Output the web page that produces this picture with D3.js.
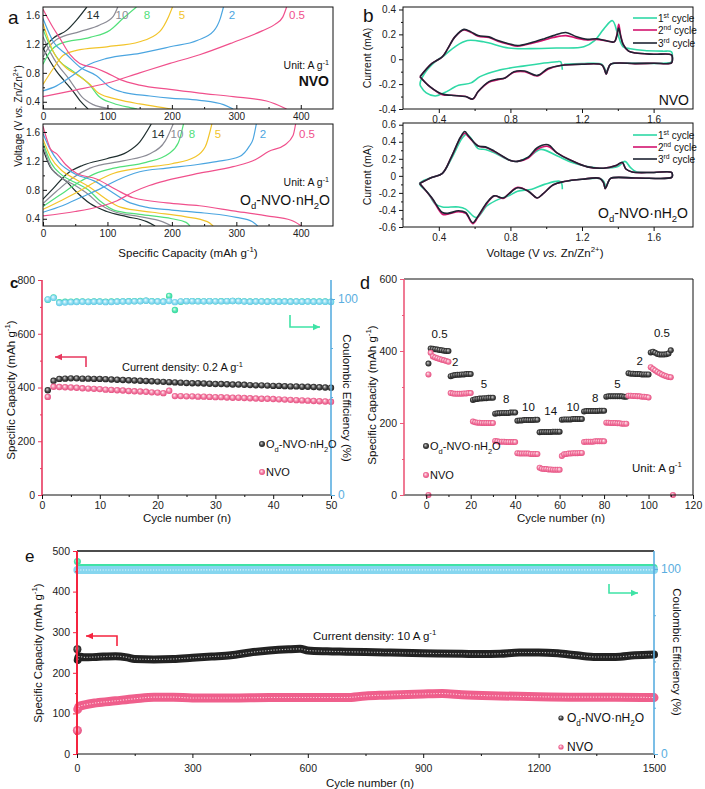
<!DOCTYPE html>
<html><head><meta charset="utf-8">
<script src="https://cdn.jsdelivr.net/npm/d3@7"></script>
<style>body{margin:0;background:#fff} svg{display:block} text{font-family:"Liberation Sans",Arial,sans-serif}</style>
</head><body><svg id="svg" width="705" height="789"></svg>
<script>
// ---------------- DATA ----------------
// Panel a: GCD curves [capacity mAh/g, voltage V]
const rateLabels = ['14','10','8','5','2','0.5'];
const rateColors = ['#1f2f2f','#8c8c96','#52e07a','#f2c42a','#4ba5e0','#f0508c'];
const nvoCharge = [
  [[0,1.12],[3,1.16],[16,1.28],[37,1.39],[52,1.53],[68,1.71]],
  [[0,1.02],[8,1.14],[21,1.26],[57,1.37],[88,1.46],[109,1.58],[116,1.71]],
  [[0,0.92],[10,1.08],[26,1.2],[73,1.29],[104,1.39],[124,1.55],[145,1.71]],
  [[0,0.64],[16,0.86],[31,1.04],[52,1.11],[99,1.16],[150,1.23],[181,1.37],[195,1.58],[201,1.71]],
  [[0,0.55],[21,0.62],[47,0.77],[68,0.9],[99,1.0],[150,1.07],[197,1.16],[240,1.25],[265,1.38],[275,1.55],[280,1.71]],
  [[0,0.47],[50,0.56],[100,0.66],[150,0.8],[197,0.93],[243,1.05],[295,1.22],[340,1.38],[360,1.47],[372,1.57],[378,1.71]]
];
const nvoDischarge = [
  [[0,1.15],[3,1.09],[11,0.96],[21,0.82],[34,0.68],[47,0.54],[57,0.42],[70,0.3]],
  [[0,1.3],[11,1.09],[23,0.91],[39,0.73],[50,0.59],[60,0.47],[78,0.36],[100,0.31],[108,0.3]],
  [[0,1.4],[11,1.17],[26,0.96],[47,0.82],[73,0.63],[86,0.48],[109,0.38],[135,0.32],[146,0.3]],
  [[0,1.48],[16,1.09],[37,0.86],[52,0.78],[73,0.64],[86,0.52],[117,0.43],[150,0.37],[192,0.31],[199,0.3]],
  [[0,1.55],[16,1.23],[37,1.05],[57,0.88],[83,0.76],[104,0.6],[125,0.53],[166,0.48],[197,0.45],[243,0.42],[280,0.36],[295,0.3]],
  [[0,1.68],[16,1.42],[26,1.28],[42,1.05],[57,0.93],[80,0.87],[99,0.8],[119,0.71],[150,0.63],[197,0.57],[243,0.52],[295,0.47],[347,0.41],[378,0.3]]
];
const odCharge = [
  [[0,0.67],[16,0.82],[37,1.02],[62,1.14],[99,1.23],[130,1.32],[150,1.46],[168,1.71]],
  [[0,0.61],[21,0.78],[47,0.97],[73,1.1],[124,1.2],[166,1.3],[190,1.48],[202,1.71]],
  [[0,0.57],[25,0.72],[55,0.9],[80,1.02],[110,1.1],[160,1.18],[195,1.3],[210,1.45],[218,1.71]],
  [[0,0.53],[30,0.66],[60,0.8],[85,0.93],[110,1.03],[150,1.1],[200,1.16],[235,1.25],[252,1.4],[262,1.71]],
  [[0,0.49],[30,0.58],[60,0.7],[90,0.82],[114,0.93],[150,1.05],[192,1.1],[240,1.15],[269,1.19],[305,1.26],[320,1.4],[326,1.5],[331,1.71]],
  [[0,0.44],[50,0.5],[88,0.57],[115,0.65],[140,0.77],[165,0.86],[192,0.93],[243,1.03],[295,1.12],[330,1.22],[350,1.33],[375,1.42],[388,1.55],[392,1.71]]
];
const odDischarge = [
  [[0,1.36],[11,1.12],[21,1.02],[37,0.91],[52,0.77],[73,0.61],[99,0.5],[130,0.43],[161,0.36],[174,0.3]],
  [[0,1.42],[12,1.12],[30,0.96],[50,0.86],[70,0.74],[88,0.6],[110,0.5],[150,0.43],[185,0.36],[200,0.3]],
  [[0,1.45],[12,1.18],[30,1.0],[50,0.9],[70,0.8],[88,0.65],[110,0.52],[150,0.46],[200,0.4],[222,0.35],[228,0.3]],
  [[0,1.5],[12,1.25],[30,1.06],[50,0.95],[72,0.84],[95,0.69],[120,0.56],[170,0.49],[220,0.43],[255,0.36],[264,0.3]],
  [[0,1.58],[10,1.38],[25,1.18],[50,1.02],[80,0.92],[105,0.78],[130,0.64],[160,0.56],[200,0.52],[250,0.48],[300,0.42],[325,0.36],[333,0.3]],
  [[0,1.68],[6,1.5],[12,1.36],[21,1.3],[35,1.15],[52,1.03],[83,0.95],[114,0.8],[140,0.69],[192,0.62],[243,0.58],[295,0.51],[347,0.44],[385,0.38],[401,0.3]]
];

// Panel b: CV loops [V, mA]
const cycleLabels = ['1st','2nd','3rd'];
const cycleColors = ['#2fd9a6','#d2136e','#1e2433'];
const cvNvo1 = [[1.09,-0.085],[1.08,-0.02],[1.06,-0.02],[0.87,-0.055],[0.73,-0.09],[0.63,-0.14],[0.58,-0.19],[0.51,-0.21],[0.43,-0.27],[0.38,-0.295],[0.33,-0.27],[0.3,-0.22],[0.295,-0.2],[0.32,-0.115],[0.38,-0.02],[0.43,0.03],[0.49,0.1],[0.56,0.15],[0.65,0.14],[0.79,0.09],[0.91,0.085],[1.06,0.09],[1.21,0.1],[1.27,0.15],[1.32,0.24],[1.37,0.31],[1.40,0.2],[1.43,0.1],[1.47,0.085],[1.55,0.07],[1.65,0.065],[1.7,0.06],[1.705,0.02],[1.7,-0.02],[1.5,-0.03],[1.36,-0.04],[1.345,-0.08],[1.335,-0.1],[1.325,-0.07],[1.31,-0.04],[1.2,-0.035],[1.1,-0.04]];
const cvNvo2 = [[0.295,-0.14],[0.36,-0.035],[0.42,0.02],[0.45,0.085],[0.49,0.18],[0.54,0.235],[0.58,0.215],[0.62,0.185],[0.68,0.175],[0.73,0.145],[0.79,0.12],[0.84,0.105],[0.91,0.125],[0.99,0.155],[1.04,0.175],[1.11,0.19],[1.17,0.17],[1.23,0.155],[1.28,0.16],[1.33,0.15],[1.38,0.14],[1.395,0.2],[1.405,0.28],[1.415,0.2],[1.43,0.12],[1.46,0.065],[1.5,0.05],[1.6,0.04],[1.7,0.035],[1.705,0.0],[1.7,-0.03],[1.6,-0.032],[1.5,-0.035],[1.36,-0.04],[1.345,-0.08],[1.335,-0.12],[1.325,-0.08],[1.31,-0.045],[1.2,-0.04],[1.08,-0.05],[1.01,-0.08],[0.95,-0.135],[0.88,-0.1],[0.82,-0.105],[0.77,-0.15],[0.73,-0.165],[0.68,-0.185],[0.62,-0.26],[0.59,-0.32],[0.55,-0.3],[0.47,-0.29],[0.42,-0.285],[0.35,-0.22],[0.295,-0.14]];
const cvNvo3 = [[0.295,-0.14],[0.36,-0.035],[0.42,0.02],[0.45,0.085],[0.49,0.18],[0.54,0.24],[0.58,0.22],[0.62,0.19],[0.68,0.18],[0.73,0.15],[0.79,0.125],[0.84,0.11],[0.91,0.13],[0.99,0.165],[1.04,0.19],[1.11,0.215],[1.17,0.18],[1.23,0.16],[1.28,0.165],[1.33,0.15],[1.38,0.14],[1.395,0.19],[1.405,0.25],[1.415,0.19],[1.43,0.12],[1.46,0.065],[1.5,0.05],[1.6,0.04],[1.7,0.035],[1.705,0.0],[1.7,-0.03],[1.6,-0.032],[1.5,-0.035],[1.36,-0.04],[1.345,-0.08],[1.335,-0.12],[1.325,-0.08],[1.31,-0.045],[1.2,-0.04],[1.08,-0.05],[1.01,-0.075],[0.95,-0.13],[0.88,-0.095],[0.82,-0.1],[0.77,-0.15],[0.73,-0.16],[0.68,-0.18],[0.62,-0.26],[0.59,-0.32],[0.55,-0.3],[0.47,-0.29],[0.42,-0.28],[0.35,-0.22],[0.295,-0.14]];
const cvOd1 = [[1.09,-0.157],[1.08,-0.067],[0.99,-0.1],[0.92,-0.157],[0.84,-0.18],[0.79,-0.235],[0.74,-0.27],[0.67,-0.35],[0.61,-0.49],[0.55,-0.39],[0.51,-0.365],[0.42,-0.365],[0.38,-0.33],[0.34,-0.2],[0.293,-0.09],[0.36,-0.02],[0.42,0.03],[0.47,0.2],[0.53,0.44],[0.555,0.49],[0.58,0.44],[0.62,0.32],[0.66,0.31],[0.71,0.27],[0.8,0.18],[0.84,0.17],[0.9,0.22],[0.97,0.31],[1.06,0.235],[1.14,0.16],[1.23,0.11],[1.32,0.09],[1.4,0.11],[1.44,0.17],[1.47,0.1],[1.5,0.05],[1.6,0.04],[1.7,0.04],[1.705,0],[1.7,-0.02],[1.5,-0.025],[1.36,-0.03],[1.345,-0.08],[1.335,-0.13],[1.32,-0.06],[1.3,-0.03],[1.2,-0.04],[1.12,-0.06]];
const cvOd2 = [[0.293,-0.09],[0.36,-0.02],[0.42,0.03],[0.47,0.22],[0.52,0.44],[0.545,0.5],[0.565,0.46],[0.62,0.35],[0.66,0.335],[0.71,0.285],[0.8,0.18],[0.84,0.17],[0.9,0.21],[0.95,0.31],[1.01,0.345],[1.06,0.27],[1.14,0.18],[1.23,0.105],[1.32,0.09],[1.39,0.12],[1.425,0.155],[1.445,0.08],[1.48,0.045],[1.6,0.04],[1.7,0.04],[1.705,0.0],[1.7,-0.02],[1.5,-0.025],[1.36,-0.03],[1.345,-0.08],[1.33,-0.15],[1.32,-0.08],[1.3,-0.03],[1.2,-0.04],[1.1,-0.067],[1.04,-0.105],[0.98,-0.215],[0.95,-0.26],[0.9,-0.18],[0.84,-0.135],[0.79,-0.21],[0.76,-0.265],[0.71,-0.235],[0.67,-0.32],[0.62,-0.48],[0.59,-0.56],[0.55,-0.44],[0.51,-0.42],[0.45,-0.45],[0.42,-0.45],[0.36,-0.26],[0.293,-0.09]];
const cvOd3 = [[0.293,-0.09],[0.36,-0.02],[0.42,0.03],[0.47,0.22],[0.52,0.45],[0.545,0.52],[0.565,0.47],[0.62,0.35],[0.66,0.34],[0.71,0.29],[0.8,0.18],[0.84,0.17],[0.9,0.22],[0.95,0.33],[1.01,0.365],[1.06,0.27],[1.14,0.18],[1.23,0.105],[1.32,0.09],[1.39,0.12],[1.425,0.16],[1.445,0.08],[1.48,0.045],[1.6,0.04],[1.7,0.04],[1.705,0.0],[1.7,-0.02],[1.5,-0.025],[1.36,-0.03],[1.345,-0.08],[1.33,-0.15],[1.32,-0.08],[1.3,-0.03],[1.2,-0.04],[1.1,-0.067],[1.04,-0.105],[0.98,-0.215],[0.95,-0.26],[0.9,-0.18],[0.84,-0.14],[0.79,-0.215],[0.76,-0.26],[0.71,-0.235],[0.67,-0.31],[0.62,-0.47],[0.59,-0.55],[0.55,-0.43],[0.51,-0.41],[0.45,-0.44],[0.42,-0.43],[0.36,-0.255],[0.293,-0.09]];

// Panel c: cycling at 0.2 A/g (cycles 1..50)
const capOdC = [390,425,432,433,434,434,433,433,432,432,431,430,429,428,427,426,425,424,423,422,421,420,419,418,417,416,416,415,414,413,413,412,411,411,410,409,408,408,407,406,406,405,404,404,403,403,402,401,400,399];
const capNvoC = [365,403,402,401,400,399,397,396,395,394,392,391,390,389,387,386,385,384,382,381,379,388,368,368,367,367,366,366,365,364,364,363,362,362,361,360,359,358,358,357,356,355,354,353,352,351,350,349,348,347];
const ceOdC = [99.6,100.8,98.4,98.6,98.6,98.7,98.8,98.6,98.7,98.8,98.6,98.7,98.8,98.8,98.9,98.9,99.0,99.2,98.9,98.8,98.7,101.6,94.4,98.6,98.9,98.9,98.9,98.8,98.9,98.8,98.9,98.9,99.0,99.0,98.8,98.7,98.8,98.8,98.7,98.8,98.7,98.8,98.7,98.8,98.7,98.8,98.7,98.8,98.7,98.6];
const ceNvoC = [99.8,100.6,98.0,98.2,98.4,98.5,98.6,98.5,98.6,98.6,98.4,98.5,98.6,98.7,98.7,98.8,98.8,99.1,98.8,98.7,98.6,99.0,98.4,98.8,98.9,98.9,98.8,98.8,98.9,98.8,98.8,98.9,99.0,98.9,98.7,98.6,98.7,98.7,98.6,98.7,98.6,98.7,98.6,98.7,98.6,98.7,98.6,98.6,98.6,98.5];

// Panel d: rate performance (cycles 1..110)
const capOdD = [365,
 407,406,405,404,403,402,401,400,400,
 330,332,333,334,334,335,335,336,336,336,
 264,266,267,268,268,269,269,270,270,270,
 226,227,227,228,228,228,228,229,229,229,
 206,207,207,208,208,208,208,208,209,209,
 174,175,175,175,175,175,176,176,176,176,
 209,210,210,210,210,211,211,211,211,211,
 232,233,233,233,233,233,233,234,234,234,
 273,274,274,274,274,274,274,274,273,273,
 338,337,337,336,336,336,335,335,335,335,
 396,398,395,392,390,390,390,391,393,402];
const capNvoD = [335,
 395,385,382,380,378,376,374,372,370,
 283,282,281,281,281,281,282,282,283,283,
 204,202,201,201,200,200,200,200,200,200,
 150,149,148,148,148,147,147,147,147,147,
 116,115,115,115,115,115,114,114,114,114,
 76,73,72,72,71,71,70,70,70,70,
 108,113,114,115,115,116,116,116,117,117,
 147,148,148,148,148,149,149,149,149,149,
 201,201,200,200,200,199,199,198,198,198,
 276,276,275,275,274,274,273,273,272,271,
 355,350,346,342,338,335,332,330,328,327];
const strayNvoD = [[1,0],[111,0]];
const rateStepLabels = ['0.5','2','5','8','10','14','10','8','5','2','0.5'];
const rateStepPos = [[6,435],[13,357],[26,297],[36,255],[46,232],[56,222],[66,232],[76,257],[86,298],[96,362],[106,438]];

// Panel e: long cycling at 10 A/g  [cycle, value]
const capOdE = [[1,258],[2,232],[5,240],[20,238],[50,239],[100,241],[130,238],[150,234],[200,233],[250,234],[300,237],[350,240],[400,243],[450,250],[500,255],[550,258],[580,259],[600,255],[650,253],[700,252],[800,250],[900,248],[1000,247],[1050,246],[1100,247],[1150,250],[1200,250],[1250,248],[1300,243],[1350,239],[1400,239],[1450,243],[1500,245]];
const capNvoE = [[2,110],[5,117],[20,121],[50,126],[100,131],[150,136],[200,140],[250,140],[300,138],[400,138],[500,139],[600,139],[700,139],[750,143],[800,145],[900,148],[950,149],[1000,146],[1100,143],[1200,141],[1300,140],[1400,140],[1500,139]];
const capNvoEfirst = [[1,58]];
const ceOdE = [[1,104],[10,100.8],[300,100.8],[600,100.8],[900,100.8],[1200,100.8],[1500,100.8]];
const ceNvoE = [[1,99.4],[100,99.4],[400,99.5],[800,99.5],[1200,99.5],[1500,99.5]];

// ---------------- DRAWING ----------------
const svg = d3.select('#svg');
const FONT = '"Liberation Sans", Arial, sans-serif';
const fmtMinus = f => d => d === 0 ? '0' : d3.format(f)(d).replace('−','-');

const defs = svg.append('defs');
function grad(id, c0, c1, c2) {
  const g = defs.append('radialGradient').attr('id', id).attr('cx','50%').attr('cy','50%').attr('r','55%').attr('fx','38%').attr('fy','35%');
  g.append('stop').attr('offset','0%').attr('stop-color', c0);
  g.append('stop').attr('offset','55%').attr('stop-color', c1);
  g.append('stop').attr('offset','100%').attr('stop-color', c2);
}
grad('gBlack','#d8d8d8','#4a4a4a','#151515');
grad('gPink','#fff0f5','#f27aa0','#e2457a');
grad('gCyan','#f2fdff','#8ddcf0','#5cc6e6');
grad('gGreen','#e5fff4','#55e6b0','#2fd49a');

function rich(t, parts, fs) {
  let shift = 0;
  parts.forEach(p => {
    const [s, m] = typeof p === 'string' ? [p, ''] : p;
    const ts = t.append('tspan').text(s);
    const target = m === 'sub' ? fs * 0.32 : m === 'sup' ? -fs * 0.4 : 0;
    if (target !== shift) { ts.attr('dy', target - shift); shift = target; }
    if (m === 'sub' || m === 'sup') ts.attr('font-size', fs * 0.68);
    if (m === 'i') ts.attr('font-style', 'italic');
  });
  return t;
}
function label(x, y, parts, fs, opts = {}) {
  const t = svg.append('text').attr('x', x).attr('y', y).attr('font-size', fs)
    .attr('fill', opts.fill || '#111').attr('text-anchor', opts.anchor || 'start')
    .attr('font-weight', opts.weight || 'normal');
  if (opts.rotate) t.attr('transform', `rotate(${opts.rotate},${x},${y})`);
  return rich(t, typeof parts === 'string' ? [parts] : parts, fs);
}
function axis(maker, scale, tr, major, minor, fmt, col, fs, len = 4, pad = 3) {
  const g = svg.append('g').attr('transform', tr).call(maker(scale).tickValues(major).tickSize(len).tickPadding(pad).tickSizeOuter(0).tickFormat(fmt));
  g.select('.domain').remove();
  g.selectAll('line').attr('stroke', col).attr('stroke-width', 1);
  g.selectAll('text').attr('font-size', fs).attr('fill', '#222').attr('font-family', FONT);
  if (minor) {
    const m = svg.append('g').attr('transform', tr).call(maker(scale).tickValues(minor).tickSize(len / 2).tickSizeOuter(0).tickFormat(''));
    m.select('.domain').remove();
    m.selectAll('line').attr('stroke', col);
  }
  return g;
}
function hline(x1, x2, y, col, w = 1) { svg.append('line').attr('x1', x1).attr('x2', x2).attr('y1', y).attr('y2', y).attr('stroke', col).attr('stroke-width', w); }
function vline(x, y1, y2, col, w = 1) { svg.append('line').attr('x1', x).attr('x2', x).attr('y1', y1).attr('y2', y2).attr('stroke', col).attr('stroke-width', w); }
function box(x0, x1, y0, y1) { svg.append('rect').attr('x', x0).attr('y', y0).attr('width', x1 - x0).attr('height', y1 - y0).attr('fill', 'none').attr('stroke', '#111').attr('stroke-width', 1); }
function arrow(pts, col) {
  svg.append('path').attr('d', d3.line()(pts)).attr('fill', 'none').attr('stroke', col).attr('stroke-width', 1.6);
  const [a, b] = [pts[pts.length - 2], pts[pts.length - 1]];
  const ang = Math.atan2(b[1] - a[1], b[0] - a[0]);
  const L = 7, W = 3.2;
  const p1 = [b[0] - L * Math.cos(ang) + W * Math.sin(ang), b[1] - L * Math.sin(ang) - W * Math.cos(ang)];
  const p2 = [b[0] - L * Math.cos(ang) - W * Math.sin(ang), b[1] - L * Math.sin(ang) + W * Math.cos(ang)];
  svg.append('path').attr('d', `M${b[0]},${b[1]}L${p1[0]},${p1[1]}L${p2[0]},${p2[1]}Z`).attr('fill', col);
}
const odParts = () => ['O', ['d', 'sub'], '-NVO·nH', ['2', 'sub'], 'O'];

// ===== Panel a =====
const xA = d3.scaleLinear([0, 450], [43, 333]);
const yA1 = d3.scaleLinear([0.3, 1.71], [109, 7]);
const yA2 = d3.scaleLinear([0.3, 1.71], [226, 124]);
[[yA1, nvoCharge, nvoDischarge, 109, 7], [yA2, odCharge, odDischarge, 226, 124]].forEach(([yS, ch, dis, yb, yt]) => {
  const clipId = 'clipA' + yb;
  defs.append('clipPath').attr('id', clipId).append('rect').attr('x', 43).attr('y', yt).attr('width', 290).attr('height', yb - yt);
  const gl = svg.append('g').attr('clip-path', `url(#${clipId})`);
  const line = d3.line().x(d => xA(d[0])).y(d => yS(d[1])).curve(d3.curveMonotoneX);
  for (let i = 0; i < 6; i++) {
    gl.append('path').attr('d', line(ch[i])).attr('fill', 'none').attr('stroke', rateColors[i]).attr('stroke-width', 1.2);
    gl.append('path').attr('d', line(dis[i])).attr('fill', 'none').attr('stroke', rateColors[i]).attr('stroke-width', 1.2);
  }
  box(43, 333, yt, yb);
  axis(d3.axisBottom, xA, `translate(0,${yb})`, [0, 100, 200, 300, 400], [50, 150, 250, 350], d3.format('d'), '#111', 10, -4, 4);
  axis(d3.axisLeft, yS, `translate(43,0)`, [0.4, 0.8, 1.2, 1.6], [0.6, 1.0, 1.4], d3.format('.1f'), '#111', 10, -4, 3);
});
// rate labels
[[93, 19], [122, 19], [147, 19], [182, 19], [232, 19], [297, 19]].forEach((p, i) => label(p[0], p[1], rateLabels[i], 11.5, { fill: rateColors[i], anchor: 'middle' }));
[[158, 138], [177, 138], [192, 138], [218, 138], [263, 138], [307, 138]].forEach((p, i) => label(p[0], p[1], rateLabels[i], 11.5, { fill: rateColors[i], anchor: 'middle' }));
label(329, 69, ['Unit: A g', ['-1', 'sup']], 10.5, { anchor: 'end' });
label(329, 86, 'NVO', 14, { anchor: 'end', weight: 'bold' });
label(329, 186, ['Unit: A g', ['-1', 'sup']], 10.5, { anchor: 'end' });
label(330, 205, odParts(), 14, { anchor: 'end' });
label(188, 257, ['Specific Capacity (mAh g', ['-1', 'sup'], ')'], 11.5, { anchor: 'middle' });
label(22, 116, ['Voltage (V ', ['vs.', 'i'], ' Zn/Zn', ['2+', 'sup'], ')'], 10, { anchor: 'middle', rotate: -90 });
label(8, 24, 'a', 19);

// ===== Panel b =====
const xB = d3.scaleLinear([0.2, 1.82], [403, 693]);
const yB1 = d3.scaleLinear([-0.4, 0.42], [109, 7]);
const yB2 = d3.scaleLinear([-0.6, 0.62], [227, 123]);
[[yB1, [cvNvo1, cvNvo2, cvNvo3], 109, 7, [-0.4, -0.2, 0, 0.2, 0.4], [-0.3, -0.1, 0.1, 0.3]],
 [yB2, [cvOd1, cvOd2, cvOd3], 227, 123, [-0.6, -0.4, -0.2, 0, 0.2, 0.4, 0.6], [-0.5, -0.3, -0.1, 0.1, 0.3, 0.5]]].forEach(([yS, loops, yb, yt, maj, mn]) => {
  const line = d3.line().x(d => xB(d[0])).y(d => yS(d[1])).curve(d3.curveCatmullRom.alpha(0.5));
  loops.forEach((lp, i) => svg.append('path').attr('d', line(lp)).attr('fill', 'none').attr('stroke', cycleColors[i]).attr('stroke-width', 1.6));
  box(403, 693, yt, yb);
  axis(d3.axisBottom, xB, `translate(0,${yb})`, [0.4, 0.8, 1.2, 1.6], [0.6, 1.0, 1.4], d3.format('.1f'), '#111', 10);
  axis(d3.axisLeft, yS, `translate(403,0)`, maj, mn, fmtMinus('.1f'), '#111', 10);
  label(371, (yt + yb) / 2, 'Current (mA)', 10.5, { anchor: 'middle', rotate: -90 });
});
[[18, 30, 43], [135, 147, 159]].forEach(ys => {
  ys.forEach((y, i) => {
    hline(633, 657, y, cycleColors[i], 1.6);
    const sup = i === 0 ? 'st' : i === 1 ? 'nd' : 'rd';
    label(658, y + 3.5, [String(i + 1), [sup, 'sup'], ' cycle'], 10);
  });
});
label(689, 105, 'NVO', 14, { anchor: 'end' });
label(688, 218, odParts(), 14, { anchor: 'end' });
label(545, 257, ['Voltage (V ', ['vs.', 'i'], ' Zn/Zn', ['2+', 'sup'], ')'], 11.5, { anchor: 'middle' });
label(363, 22, 'b', 19);

// ===== Panel c =====
const xC = d3.scaleLinear([0, 50], [42, 331]);
const yC = d3.scaleLinear([0, 800], [495, 280]);
const yC2 = d3.scaleLinear([0, 109.7], [495, 280]);
const red = '#e8395f', blue = '#5aaee0', green = '#3fe3a6';
function dots(data, xs, ys, fill, r, stroke) {
  svg.append('g').selectAll('circle').data(data).join('circle')
    .attr('cx', d => xs(d[0])).attr('cy', d => ys(d[1])).attr('r', r)
    .attr('fill', fill).attr('stroke', stroke || 'none').attr('stroke-width', 0.5);
}
dots(ceOdC.map((v, i) => [i + 1, v]), xC, yC2, 'url(#gGreen)', 3.2);
dots(ceNvoC.map((v, i) => [i + 1, v]), xC, yC2, 'url(#gCyan)', 3.2);
dots(capOdC.map((v, i) => [i + 1, v]), xC, yC, 'url(#gBlack)', 3.2);
dots(capNvoC.map((v, i) => [i + 1, v]), xC, yC, 'url(#gPink)', 3.2);
hline(42, 331, 495, '#111');
vline(42, 280, 495, red, 1.6);
vline(331, 280, 495, blue, 1.6);
axis(d3.axisBottom, xC, 'translate(0,495)', [0, 10, 20, 30, 40, 50], [5, 15, 25, 35, 45], d3.format('d'), '#111', 10.5);
axis(d3.axisLeft, yC, 'translate(42,0)', [0, 200, 400, 600, 800], [100, 300, 500, 700], d3.format('d'), red, 10.5);
axis(d3.axisRight, yC2, 'translate(331,0)', [0, 100], [25, 50, 75], d3.format('d'), blue, 12, 4)
  .selectAll('text').attr('fill', blue);
arrow([[86, 367], [86, 357], [55, 357]], red);
arrow([[290, 315], [290, 327], [320, 327]], green);
label(122, 371, ['Current density: 0.2 A g', ['-1', 'sup']], 11);
dots([[0, 0]], () => 262, () => 444, 'url(#gBlack)', 3);
label(266, 448, odParts(), 11);
dots([[0, 0]], () => 262, () => 472, 'url(#gPink)', 3);
label(266, 476, 'NVO', 11);
label(187, 522, 'Cycle number (n)', 11.5, { anchor: 'middle' });
label(15, 390, ['Specific Capacity (mAh g', ['-1', 'sup'], ')'], 11.5, { anchor: 'middle', rotate: -90 });
label(343, 398, 'Coulombic Efficiency (%)', 11.5, { anchor: 'middle', rotate: 90 });
label(10, 288, 'c', 15, { weight: 'bold' });

// ===== Panel d =====
const xD = d3.scaleLinear([-10, 120], [404, 693]);
const yD = d3.scaleLinear([0, 600], [495, 279]);
const redD = '#ec5a7a';
dots(capOdD.map((v, i) => [i + 1, v]), xD, yD, 'url(#gBlack)', 3);
dots(capNvoD.map((v, i) => [i + 1, v]), xD, yD, 'url(#gPink)', 3);
dots(strayNvoD, xD, yD, 'url(#gPink)', 3);
hline(404, 693, 495, '#111');
hline(404, 693, 279, '#111');
vline(693, 279, 495, '#111');
vline(404, 279, 495, redD, 1.6);
axis(d3.axisBottom, xD, 'translate(0,495)', [0, 20, 40, 60, 80, 100, 120], [10, 30, 50, 70, 90, 110], d3.format('d'), '#111', 10.5);
axis(d3.axisLeft, yD, 'translate(404,0)', [0, 200, 400, 600], [100, 300, 500], d3.format('d'), redD, 10.5);
rateStepPos.forEach((p, i) => label(xD(p[0]), yD(p[1]), rateStepLabels[i], 11.5, { anchor: 'middle' }));
dots([[0, 0]], () => 426, () => 446, 'url(#gBlack)', 3);
label(430, 450, odParts(), 11);
dots([[0, 0]], () => 426, () => 475, 'url(#gPink)', 3);
label(430, 479, 'NVO', 11);
label(632, 472, ['Unit: A g', ['-1', 'sup']], 11.5);
label(561, 522, 'Cycle number (n)', 11.5, { anchor: 'middle' });
label(376, 395, ['Specific Capacity (mAh g', ['-1', 'sup'], ')'], 11.5, { anchor: 'middle', rotate: -90 });
label(360, 289, 'd', 18);

// ===== Panel e =====
const xE = d3.scaleLinear([0, 1500], [77, 654]);
const yE = d3.scaleLinear([0, 500], [754, 551]);
const yE2 = d3.scaleLinear([0, 109.7], [754, 551]);
const redE = '#f5243f';
function band(data, ys, col, w, hi) {
  const line = d3.line().x(d => xE(d[0])).y(d => ys(d[1])).curve(d3.curveMonotoneX);
  svg.append('path').attr('d', line(data)).attr('fill', 'none').attr('stroke', col).attr('stroke-width', w).attr('stroke-linecap', 'round');
  svg.append('path').attr('d', line(data)).attr('fill', 'none').attr('stroke', hi).attr('stroke-width', 1.1).attr('stroke-dasharray', '1.2,1.6');
}
band(ceOdE.slice(1), yE2, green, 7, '#c8ffe8');
band(ceNvoE, yE2, '#86d6ef', 8, '#e4f8ff');
dots([ceOdE[0]], xE, yE2, 'url(#gGreen)', 3.5);
band(capOdE.slice(1), yE, '#222', 8, '#bbbbbb');
dots([capOdE[0]], xE, yE, 'url(#gBlack)', 4);
band(capNvoE, yE, '#ef5f8c', 9, '#ffd0de');
dots(capNvoEfirst, xE, yE, 'url(#gPink)', 4.5);
hline(77, 654, 754, '#111');
hline(77, 654, 551, '#111', 1.4);
vline(654, 551, 754, blue, 1.6);
vline(77, 551, 754, redE, 2);
axis(d3.axisBottom, xE, 'translate(0,754)', [0, 300, 600, 900, 1200, 1500], [150, 450, 750, 1050, 1350], d3.format('d'), '#111', 10.5, 4, 7);
axis(d3.axisLeft, yE, 'translate(77,0)', [0, 100, 200, 300, 400, 500], [50, 150, 250, 350, 450], d3.format('d'), redE, 10.5);
axis(d3.axisRight, yE2, 'translate(654,0)', [0, 100], [25, 50, 75], d3.format('d'), blue, 12)
  .selectAll('text').attr('fill', blue);
arrow([[117, 646], [117, 636], [86, 636]], redE);
arrow([[609, 584], [609, 593], [638, 593]], green);
label(313, 640, ['Current density: 10 A g', ['-1', 'sup']], 11.5);
dots([[0, 0]], () => 561, () => 718, 'url(#gBlack)', 2.6);
label(567, 722, odParts(), 12);
dots([[0, 0]], () => 561, () => 747, 'url(#gPink)', 2.6);
label(567, 751, 'NVO', 12);
label(370, 787, 'Cycle number (n)', 11.5, { anchor: 'middle' });
label(42, 653, ['Specific Capacity (mAh g', ['-1', 'sup'], ')'], 11.5, { anchor: 'middle', rotate: -90 });
label(673, 652, 'Coulombic Efficiency (%)', 11.5, { anchor: 'middle', rotate: 90 });
label(25, 562, 'e', 17);
</script></body></html>
